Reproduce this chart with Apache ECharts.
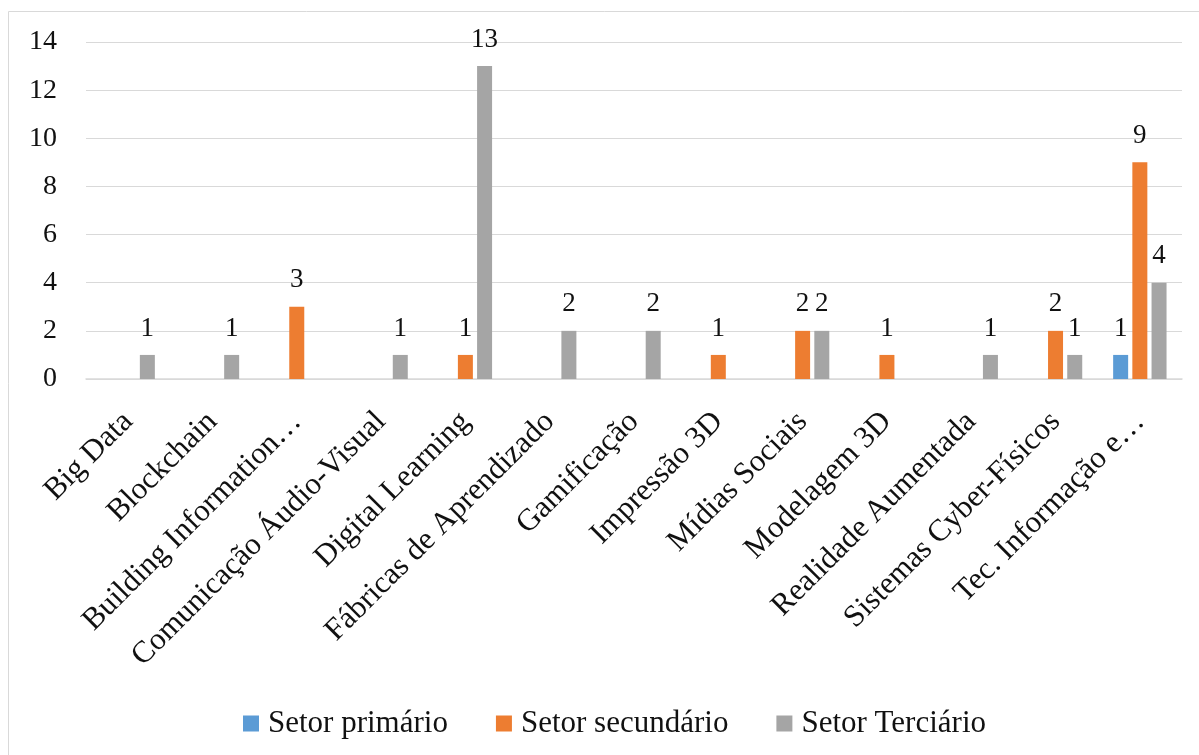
<!DOCTYPE html>
<html><head><meta charset="utf-8">
<script src="https://cdn.jsdelivr.net/npm/echarts@6/dist/echarts.min.js"></script>
<style>html,body{margin:0;padding:0;background:#fff}#c{width:1199px;height:755px}</style>
</head><body><div id="c"></div>
<script>
var categories = ["Big Data","Blockchain","Building Information\u2026","Comunica\u00e7\u00e3o \u00c1udio-Visual","Digital Learning","F\u00e1bricas de Aprendizado","Gamifica\u00e7\u00e3o","Impress\u00e3o 3D","M\u00eddias Sociais","Modelagem 3D","Realidade Aumentada","Sistemas Cyber-F\u00edsicos","Tec. Informa\u00e7\u00e3o e\u2026"];
var primario   = [null,null,null,null,null,null,null,null,null,null,null,null,1];
var secundario = [null,null,3,null,1,null,null,1,2,1,null,2,9];
var terciario  = [1,1,null,1,13,2,2,null,2,null,1,1,4];
var yTicks = [0,2,4,6,8,10,12,14];
var seriesNames = ["Setor prim\u00e1rio","Setor secund\u00e1rio","Setor Terci\u00e1rio"];

var font = "'Liberation Serif','Times New Roman',serif";
var chart = echarts.init(document.getElementById('c'));
function mk(name, data, color){
  return {name:name,type:'bar',data:data,barWidth:15,barGap:'28%',
    itemStyle:{color:color},
    label:{show:true,position:'top',distance:13,color:'#111',fontFamily:font,fontSize:27}};
}
chart.setOption({
  animation:false,
  graphic:[{type:'rect',shape:{x:8.5,y:11.5,width:1300,height:900},style:{fill:'none',stroke:'#d9d9d9',lineWidth:1},z:-1}],
  grid:{left:86,right:17,top:42,bottom:376,containLabel:false},
  legend:{top:703,left:238,itemWidth:16,itemHeight:16,itemGap:48,icon:'rect',
    textStyle:{fontFamily:font,fontSize:31,color:'#111',padding:[0,0,0,4]},data:seriesNames},
  xAxis:{type:'category',data:categories,
    axisLine:{lineStyle:{color:'#d9d9d9',width:1.5}},axisTick:{show:false},
    axisLabel:{rotate:45,interval:0,margin:38,fontFamily:font,fontSize:31,color:'#111'}},
  yAxis:{type:'value',min:yTicks[0],max:yTicks[yTicks.length-1],interval:2,
    axisLine:{show:false},axisTick:{show:false},
    splitLine:{lineStyle:{color:'#d9d9d9',width:1.2}},
    axisLabel:{fontFamily:font,fontSize:28,color:'#111',margin:29}},
  series:[mk(seriesNames[0],primario,'#5b9bd5'),mk(seriesNames[1],secundario,'#ed7d31'),mk(seriesNames[2],terciario,'#a5a5a5')]
});
</script></body></html>
